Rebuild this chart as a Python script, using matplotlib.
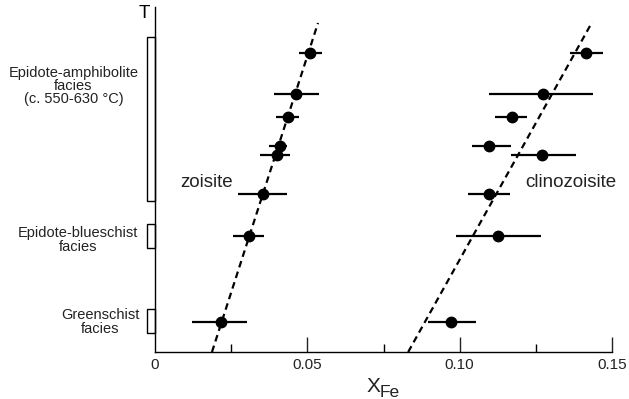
import matplotlib
matplotlib.use("Agg")
import matplotlib.pyplot as plt
from matplotlib.patches import Rectangle

plt.rcParams['font.family'] = ['Liberation Sans', 'DejaVu Sans']

# temperature rank (arbitrary units, shared rows for both minerals)
t_rows = [299, 258, 235, 206, 197, 158, 116, 30]

# zoisite X_Fe with error range
zo_x = [0.0509, 0.0463, 0.0437, 0.0411, 0.0401, 0.0355, 0.0309, 0.0217]
zo_lo = [0.0473, 0.0391, 0.0397, 0.0374, 0.0345, 0.0273, 0.0256, 0.0122]
zo_hi = [0.0548, 0.0539, 0.0473, 0.0433, 0.0443, 0.0433, 0.0358, 0.0302]

# clinozoisite X_Fe with error range
cz_x = [0.1415, 0.1274, 0.1172, 0.1097, 0.1271, 0.1097, 0.1126, 0.0972]
cz_lo = [0.1363, 0.1097, 0.1117, 0.1041, 0.1169, 0.1028, 0.0989, 0.0897]
cz_hi = [0.1471, 0.1438, 0.1222, 0.1169, 0.1383, 0.1166, 0.1268, 0.1054]

# trend lines
zo_trend_x = [0.0187, 0.0535]
zo_trend_t = [0, 329]
cz_trend_x = [0.0831, 0.1435]
cz_trend_t = [0, 330]

# facies brackets on the T axis
facies = ["Epidote-amphibolite\nfacies\n(c. 550-630 \u00b0C)",
          "Epidote-blueschist\nfacies",
          "Greenschist\nfacies"]
facies_lo = [151, 104, 19]
facies_hi = [315, 128, 43]

fig = plt.figure(figsize=(6.29, 3.99), dpi=100)
ax = fig.add_axes([155 / 629, 1 - 352 / 399, 457 / 629, 345 / 399])
ax.set_xlim(0, 0.15)
ax.set_ylim(0, 345)

for xs, lo, hi in [(zo_x, zo_lo, zo_hi), (cz_x, cz_lo, cz_hi)]:
    err = [[x - l for x, l in zip(xs, lo)], [h - x for x, h in zip(xs, hi)]]
    ax.errorbar(xs, t_rows, xerr=err, fmt='o', color='black', ms=7.5,
                elinewidth=1.6, capsize=0, zorder=3)

ax.plot(zo_trend_x, zo_trend_t, color='black', lw=1.6, dashes=(3, 2))
ax.plot(cz_trend_x, cz_trend_t, color='black', lw=1.6, dashes=(3, 2))

# label centres in pixels (x, y from top)
label_pos = [(73.5, 86), (78, 240), (100, 322)]
for name, lo, hi, (cx, cy) in zip(facies, facies_lo, facies_hi, label_pos):
    ax.add_patch(Rectangle((-0.0027, lo), 0.0027, hi - lo, fill=False,
                           edgecolor='black', lw=1.0, clip_on=False))
    fig.text(cx / 629, 1 - cy / 399, name, ha='center', va='center',
             fontsize=10.5, linespacing=0.95, color='#222222')

ax.text(0.0082, 169, "zoisite", fontsize=13.5, va='center', color='#222222')
ax.text(0.1215, 169, "clinozoisite", fontsize=13.5, va='center', color='#222222')

for s in ['top', 'right']:
    ax.spines[s].set_visible(False)
ax.spines['left'].set_linewidth(1.0)
ax.spines['bottom'].set_linewidth(1.0)

ax.set_yticks([])
ax.set_xticks([0, 0.05, 0.10, 0.15])
ax.set_xticklabels(["0", "0.05", "0.10", "0.15"])
ax.set_xticks([0.025, 0.075, 0.125], minor=True)
ax.tick_params(axis='x', which='major', direction='in', length=11, width=1.0,
               labelsize=11, pad=4, colors='#222222')
ax.tick_params(axis='x', which='minor', direction='in', length=6, width=1.0)
ax.xaxis.get_major_ticks()[0].tick1line.set_visible(False)

fig.text(150 / 629, 1 - 14 / 399, "T", fontsize=13.5, ha='right', va='center')
# axis label X with subscript Fe
fig.text(367 / 629, 1 - 392 / 399, "X", fontsize=15, ha='left',
         va='baseline', color='#222222')
fig.text(380 / 629, 1 - 397 / 399, "Fe", fontsize=12.5, ha='left',
         va='baseline', color='#222222')

fig.savefig("out.png", dpi=100)
